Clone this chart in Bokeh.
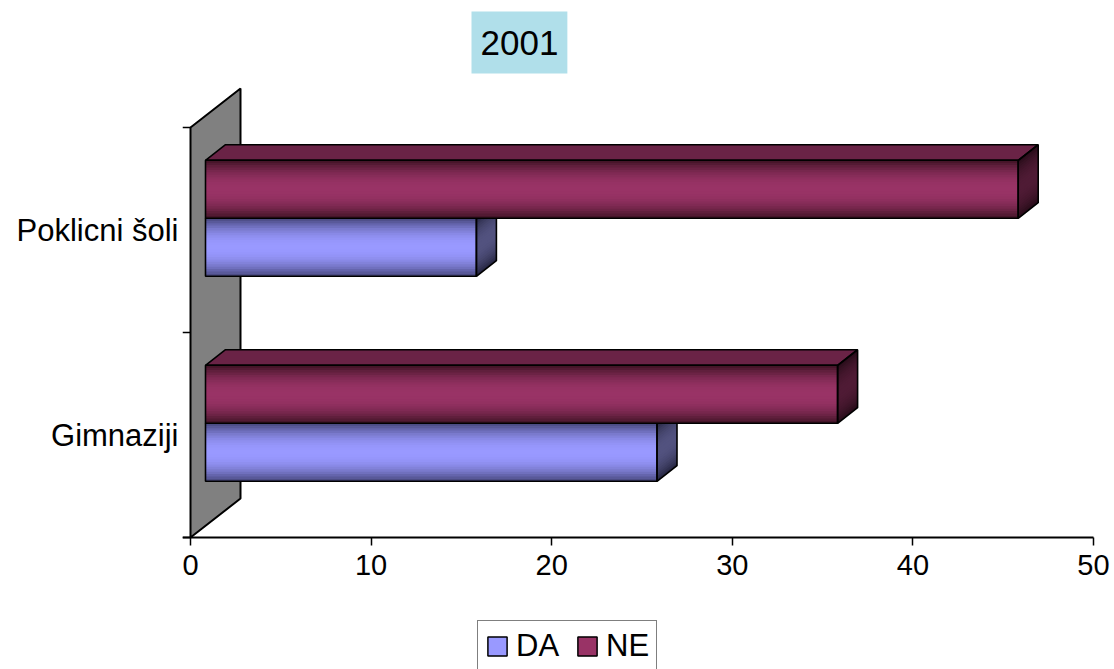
import numpy as np
from bokeh.plotting import figure
from bokeh.models import Range1d, FixedTicker, Legend, LegendItem
from bokeh.embed import file_html
from bokeh.resources import INLINE

# ---------------- data ----------------
categories = ["Gimnaziji", "Poklicni šoli"]
series_names = ["DA", "NE"]
da_values = [25, 15]
ne_values = [35, 45]
x_ticks = [0, 10, 20, 30, 40, 50]
title_text = "2001"

# ---------------- layout ----------------
W, H = 1114, 669
FL, FT = 182, 80                 # frame left/top (canvas px); frame runs to canvas right/bottom
AXIS_Y = 537                     # pixel row of the value axis
AXIS_R = 1093                    # pixel column of the last value tick
sx = (AXIS_R - (FL + 8)) / 50.0  # px per value unit
sy = 205.0                       # px per category
x_start = -8.0 / sx
x_end = x_ticks[-1] + (W - AXIS_R) / sx
y_end = (AXIS_Y - FT) / sy
y_start = -(H - AXIS_Y) / sy

DX = 50.0 / sx       # depth offset (value units)
DY = 39.0 / sy       # depth offset (category units)
F0, F1 = 0.3, 0.7    # bar front/back depth fractions
GAP = 0.217
BH = 0.283

FONT = "Liberation Sans"

p = figure(width=W, height=H, output_backend="svg", toolbar_location=None,
           x_range=Range1d(x_start, x_end), y_range=Range1d(y_start, y_end),
           min_border_left=FL, min_border_right=0,
           min_border_top=FT, min_border_bottom=0)
p.grid.visible = False
p.outline_line_color = None
p.background_fill_color = "white"
p.border_fill_color = "white"

# ---------------- wall ----------------
ncat = len(categories)
p.patch([0, 0, DX, DX], [0, ncat, ncat + DY, DY], fill_color="#808080",
        line_color="black", line_width=2)
p.segment(x0=[x_start] * (ncat + 1), x1=[0] * (ncat + 1),
          y0=list(range(ncat + 1)), y1=list(range(ncat + 1)),
          line_color="black", line_width=1.5)
# value axis line
p.segment(x0=[x_start], x1=[x_ticks[-1]], y0=[0], y1=[0], line_color="black", line_width=1.8)


def mix(c1, c2, t):
    a = np.array([int(c1[i:i + 2], 16) for i in (1, 3, 5)], float)
    b = np.array([int(c2[i:i + 2], 16) for i in (1, 3, 5)], float)
    c = a + (b - a) * t
    return "#%02x%02x%02x" % tuple(int(round(v)) for v in c)


styles = {
    "DA": dict(edge="#4c4c84", mid="#9999ff", side_edge="#282844", side_mid="#52527f", top="#6c6cb8"),
    "NE": dict(edge="#441528", mid="#993366", side_edge="#290d1a", side_mid="#4f1b35", top="#6a2346"),
}

NS = 12
legend_items = []
for j, (name, vals) in enumerate(zip(series_names, [da_values, ne_values])):
    st = styles[name]
    fl, fr, fb, ft, fc = [], [], [], [], []
    sxs, sys_, sc = [], [], []
    txs, tys = [], []
    oxs, oys = [], []
    for i, v in enumerate(vals):
        b = i + GAP + j * BH
        t = b + BH
        c = (b + t) / 2
        x0 = F0 * DX
        x1 = v + F0 * DX
        # nested bands: outermost (dark) first, innermost (light) last
        for k in range(NS):
            half = BH / 2 * (1 - k / NS)
            w = k / (NS - 1)
            w = 1 - (1 - w) ** 2
            fl.append(x0); fr.append(x1)
            fb.append(c - half + F0 * DY); ft.append(c + half + F0 * DY)
            fc.append(mix(st["edge"], st["mid"], w))
            sxs.append([x1, v + F1 * DX, v + F1 * DX, x1])
            sys_.append([c - half + F0 * DY, c - half + F1 * DY, c + half + F1 * DY, c + half + F0 * DY])
            sc.append(mix(st["side_edge"], st["side_mid"], w))
        txs.append([x0, x1, v + F1 * DX, F1 * DX])
        tys.append([t + F0 * DY, t + F0 * DY, t + F1 * DY, t + F1 * DY])
        oxs.append([x0, x1, x1, x0]); oys.append([b + F0 * DY, b + F0 * DY, t + F0 * DY, t + F0 * DY])
        oxs.append([x1, v + F1 * DX, v + F1 * DX, x1])
        oys.append([b + F0 * DY, b + F1 * DY, t + F1 * DY, t + F0 * DY])
        oxs.append(txs[-1]); oys.append(tys[-1])
    p.patches(txs, tys, fill_color=st["top"], line_color=None)
    p.patches(sxs, sys_, fill_color=sc, line_color=None)
    p.quad(left=fl, right=fr, bottom=fb, top=ft, fill_color=fc, line_color=None)
    p.patches(oxs, oys, fill_color=None, line_color="black", line_width=1.6)
    proxy = p.quad(left=[-100], right=[-99], bottom=[-100], top=[-99],
                   fill_color=st["mid"], line_color="black", line_width=1.5)
    legend_items.append(LegendItem(label=name, renderers=[proxy]))

# ---------------- axes ----------------
xa = p.xaxis[0]
xa.fixed_location = 0
xa.ticker = FixedTicker(ticks=x_ticks, minor_ticks=[])
xa.major_tick_out = 8
xa.major_tick_in = 0
xa.minor_tick_line_color = None
xa.axis_line_color = None
xa.major_tick_line_color = "black"
xa.major_tick_line_width = 1.5
xa.major_label_text_font = FONT
xa.major_label_text_font_size = "29px"
xa.major_label_text_color = "black"
xa.major_label_standoff = 9

ya = p.yaxis[0]
ya.ticker = FixedTicker(ticks=[k + 0.5 for k in range(ncat)], minor_ticks=[])
ya.major_label_overrides = {k + 0.5: c for k, c in enumerate(categories)}
ya.major_tick_line_color = None
ya.minor_tick_line_color = None
ya.axis_line_color = None
ya.major_tick_out = 0
ya.major_tick_in = 0
ya.major_label_standoff = 4
ya.major_label_text_font = FONT
ya.major_label_text_font_size = "31px"
ya.major_label_text_color = "black"

# ---------------- title ----------------
p.title.text = title_text
p.title.text_font = FONT
p.title.text_font_size = "35px"
p.title.text_font_style = "normal"
p.title.text_color = "black"
p.title.align = "left"
p.title.offset = 289
p.title.background_fill_color = "#b0dfea"
p.title.padding = (9, 19)
p.title.standoff = 14

# ---------------- legend ----------------
legend = Legend(items=legend_items, orientation="horizontal", location=(295, -3),
                label_text_font=FONT, label_text_font_size="31px", label_text_color="black",
                glyph_width=24, glyph_height=24, label_standoff=7, spacing=16,
                padding=7, margin=0, border_line_color="black", border_line_width=1.5,
                background_fill_color="white", background_fill_alpha=1.0)
p.add_layout(legend, "center")

open("out.html", "w").write(file_html(p, INLINE))
